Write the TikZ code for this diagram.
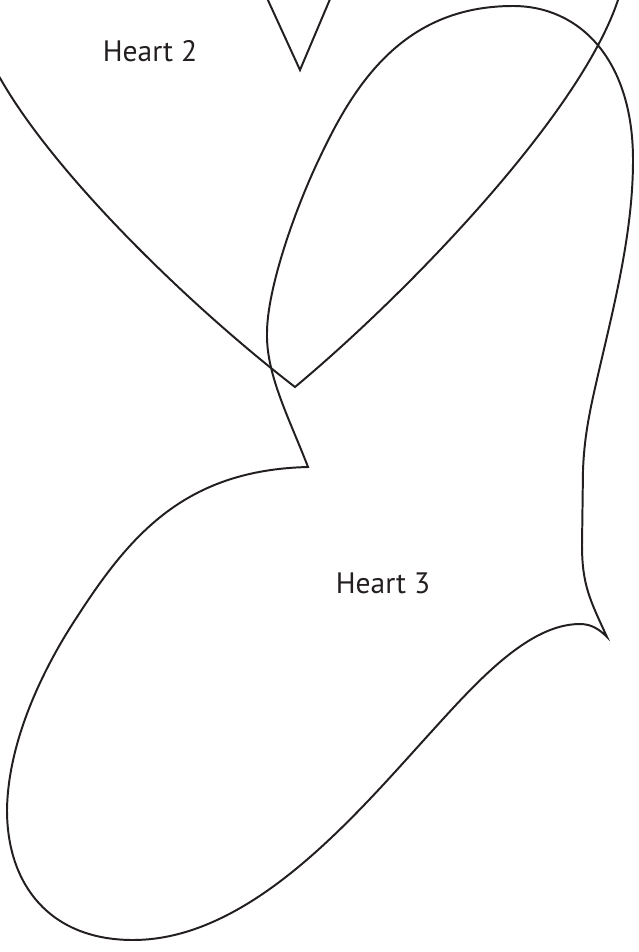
\documentclass[tikz,border=0pt]{standalone}
\usepackage{fontspec}
\setmainfont{PT Sans}
\usetikzlibrary{positioning}
\definecolor{ink}{RGB}{35,31,32}
\tikzset{
  heart/.style={draw=ink,line width=1.4pt,line join=miter,miter limit=20},
  tag/.style={text=ink,anchor=base,inner sep=0pt,font=\fontsize{21}{25}\selectfont},
}

\begin{document}
\begin{tikzpicture}[x=0.025cm,y=-0.025cm]
  \useasboundingbox (0,0) rectangle (638,952);
  \clip (0,0) rectangle (638,952);
  % heart 2, top cut off
  \draw[heart] (-12,60) -- (0,78) .. controls (55,175) and (190,306) .. (295,387)
    .. controls (410,291) and (580,114) .. (618,0) -- (623,-15);
  \draw[heart] (261,-15) -- (300,70) -- (336,-15);
  % heart 3, turned
  \draw[heart] (308,467) .. controls (185,470) and (130,535) .. (77,617)
    .. controls (44,667) and (8,740) .. (7,810)
    .. controls (7,885) and (50,940) .. (133,940)
    .. controls (253,940) and (359,811) .. (433,730)
    .. controls (480,678) and (530,624) .. (580,624)
    .. controls (592,624) and (600,630) .. (607,637)
    .. controls (590,600) and (582,585) .. (582,545)
    -- (583,470)
    .. controls (584,445) and (587,425) .. (593,397)
    .. controls (610,320) and (633,240) .. (633,160)
    .. controls (633,60) and (580,6) .. (513,6)
    .. controls (403,6) and (354,85) .. (320,157)
    .. controls (294,211) and (267,290) .. (267,333)
    .. controls (266,375) and (290,420) .. (308,467) -- cycle;
  \node[tag] (h2) at (150,62) {Heart 2};
  \node[tag] (h3) at (383,593) {Heart 3};
\end{tikzpicture}
\end{document}
